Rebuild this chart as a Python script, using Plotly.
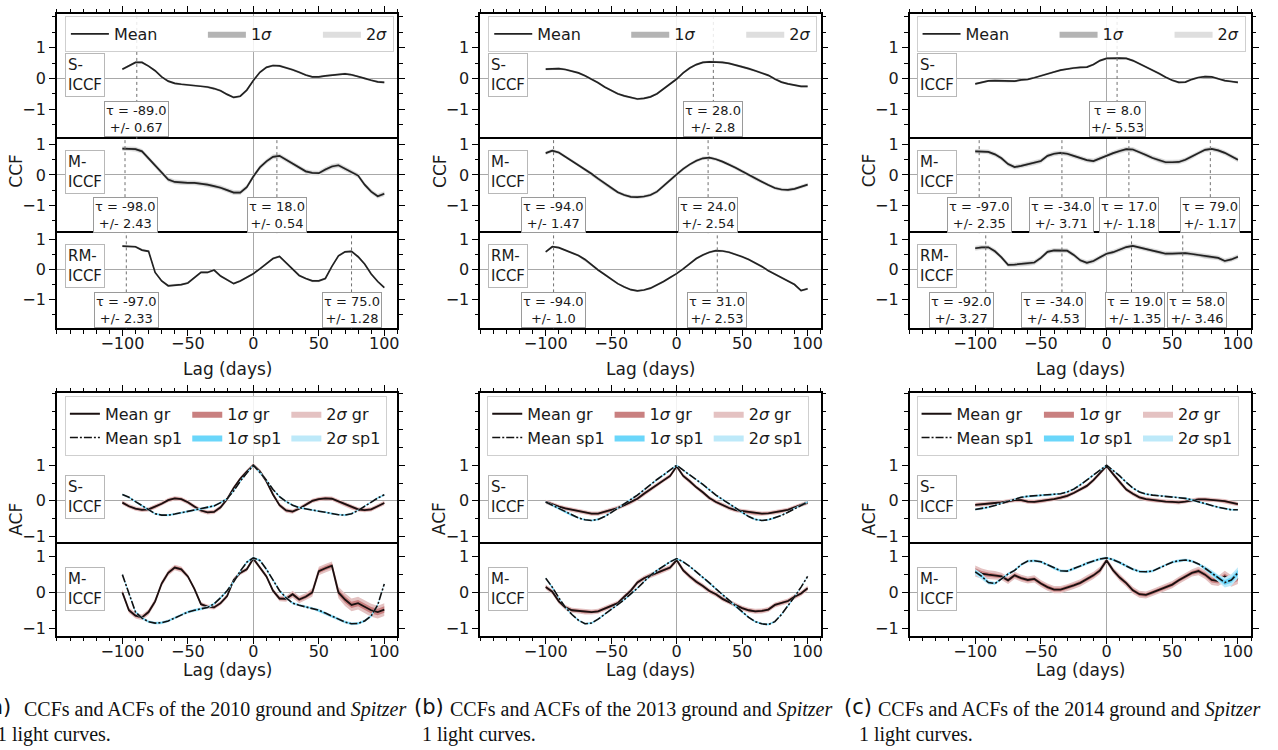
import numpy as np
import plotly.graph_objects as go

W, H = 1278, 750

# ------------------------------------------------------------------ data
lag = list(range(-100, 101, 5))

# CCF means (S-ICCF, M-ICCF, RM-ICCF) per season
ccf_2010_s = [0.30, 0.42, 0.52, 0.52, 0.40, 0.25, 0.05, -0.09, -0.16, -0.19,
              -0.21, -0.22, -0.24, -0.28, -0.33, -0.40, -0.52, -0.62, -0.58, -0.38,
              -0.07,
              0.20, 0.36, 0.42, 0.41, 0.35, 0.28, 0.20, 0.11, 0.05, 0.05,
              0.08, 0.11, 0.14, 0.15, 0.12, 0.07, 0.00, -0.06, -0.11, -0.13]
ccf_2010_m = [0.87, 0.87, 0.85, 0.78, 0.55, 0.30, 0.08, -0.15, -0.23, -0.25,
              -0.26, -0.26, -0.28, -0.32, -0.37, -0.42, -0.50, -0.58, -0.58, -0.40,
              -0.05,
              0.25, 0.45, 0.60, 0.63, 0.50, 0.38, 0.25, 0.12, 0.07, 0.06,
              0.18, 0.28, 0.32, 0.20, 0.10, -0.02, -0.32, -0.55, -0.70, -0.62]
ccf_2010_rm = [0.77, 0.77, 0.75, 0.64, 0.60, -0.10, -0.38, -0.54, -0.53, -0.50,
               -0.45, -0.28, -0.10, -0.10, -0.02, -0.22, -0.35, -0.47, -0.38, -0.26,
               -0.14,
               0.02, 0.20, 0.36, 0.43, 0.22, 0.02, -0.20, -0.30, -0.38, -0.38,
               -0.30, 0.10, 0.45, 0.58, 0.60, 0.42, 0.18, -0.15, -0.40, -0.60]
ccf_2013_s = [0.30, 0.32, 0.32, 0.29, 0.24, 0.18, 0.09, -0.02, -0.14, -0.28,
              -0.40, -0.50, -0.57, -0.63, -0.67, -0.65, -0.60, -0.50, -0.35, -0.18,
              -0.02,
              0.18, 0.34, 0.45, 0.52, 0.54, 0.54, 0.52, 0.49, 0.44, 0.39,
              0.32, 0.25, 0.18, 0.10, -0.02, -0.12, -0.18, -0.22, -0.26, -0.26]
ccf_2013_m = [0.72, 0.80, 0.74, 0.60, 0.47, 0.33, 0.18, 0.04, -0.12, -0.28,
              -0.44, -0.57, -0.66, -0.72, -0.73, -0.71, -0.66, -0.55, -0.36, -0.16,
              0.02,
              0.20, 0.35, 0.47, 0.55, 0.57, 0.52, 0.44, 0.35, 0.24, 0.12,
              0.00, -0.12, -0.22, -0.33, -0.43, -0.48, -0.49, -0.46, -0.38, -0.32]
ccf_2013_rm = [0.58, 0.75, 0.72, 0.64, 0.55, 0.46, 0.33, 0.15, -0.02, -0.17,
               -0.33, -0.47, -0.58, -0.67, -0.71, -0.68, -0.62, -0.52, -0.40, -0.27,
               -0.14,
               0.02, 0.20, 0.36, 0.48, 0.57, 0.62, 0.61, 0.57, 0.50, 0.42,
               0.33, 0.22, 0.10, -0.04, -0.16, -0.28, -0.38, -0.50, -0.70, -0.64]
ccf_2014_s = [-0.18, -0.12, -0.08, -0.07, -0.08, -0.10, -0.09, -0.05, -0.03, 0.02,
              0.09, 0.16, 0.21, 0.27, 0.31, 0.34, 0.36, 0.37, 0.45, 0.58,
              0.65,
              0.66, 0.66, 0.65, 0.58, 0.48, 0.38, 0.28, 0.16, 0.04, -0.06,
              -0.13, -0.12, -0.03, 0.03, 0.06, 0.05, -0.01, -0.07, -0.10, -0.13]
ccf_2014_m = [0.78, 0.78, 0.76, 0.68, 0.55, 0.36, 0.26, 0.30, 0.36, 0.40,
              0.46, 0.63, 0.70, 0.73, 0.70, 0.63, 0.56, 0.49, 0.46, 0.55,
              0.64,
              0.72, 0.79, 0.85, 0.84, 0.76, 0.66, 0.56, 0.48, 0.42, 0.42,
              0.43, 0.50, 0.61, 0.74, 0.83, 0.86, 0.81, 0.73, 0.62, 0.50]
ccf_2014_rm = [0.70, 0.73, 0.73, 0.60, 0.40, 0.15, 0.16, 0.18, 0.19, 0.23,
               0.38, 0.58, 0.63, 0.62, 0.62, 0.48, 0.30, 0.22, 0.28, 0.40,
               0.52,
               0.57, 0.65, 0.74, 0.78, 0.72, 0.66, 0.62, 0.57, 0.52, 0.52,
               0.54, 0.54, 0.51, 0.48, 0.43, 0.40, 0.38, 0.28, 0.33, 0.42]

# CCF 1-sigma half widths
ccf_sigma_2010 = [0.02, 0.04, 0.02]
ccf_sigma_2013 = [0.02, 0.03, 0.02]
ccf_sigma_2014 = [0.02, 0.04, 0.04]

# ACF means (ground gr, Spitzer sp1)
acf_2010_s_gr = [-0.05, -0.15, -0.22, -0.25, -0.24, -0.17, -0.08, 0.02, 0.07, 0.05,
                 -0.04, -0.16, -0.27, -0.32, -0.31, -0.18, 0.05, 0.36, 0.62, 0.82,
                 1.00,
                 0.83, 0.55, 0.18, -0.12, -0.27, -0.30, -0.22, -0.10, 0.00, 0.05,
                 0.07, 0.06, -0.02, -0.10, -0.18, -0.24, -0.26, -0.24, -0.15, -0.06]
acf_2010_s_sp1 = [0.18, 0.10, -0.02, -0.14, -0.26, -0.36, -0.40, -0.40, -0.37, -0.33,
                  -0.30, -0.27, -0.23, -0.19, -0.14, -0.05, 0.06, 0.28, 0.55, 0.78,
                  1.00,
                  0.80, 0.58, 0.32, 0.12, -0.02, -0.12, -0.19, -0.23, -0.26, -0.29,
                  -0.32, -0.36, -0.39, -0.40, -0.36, -0.27, -0.15, -0.03, 0.08, 0.17]
acf_2010_m_gr = [0.00, -0.50, -0.65, -0.70, -0.55, -0.25, 0.25, 0.55, 0.70, 0.65,
                 0.45, 0.10, -0.33, -0.40, -0.42, -0.30, -0.10, 0.35, 0.55, 0.65,
                 0.95,
                 0.70, 0.45, 0.05, -0.17, -0.18, -0.05, -0.20, -0.12, 0.00, 0.60,
                 0.68, 0.75, 0.00, -0.20, -0.35, -0.30, -0.40, -0.50, -0.55, -0.48]
acf_2010_m_sp1 = [0.50, -0.05, -0.55, -0.72, -0.82, -0.86, -0.85, -0.80, -0.72, -0.62,
                  -0.55, -0.50, -0.46, -0.42, -0.32, -0.15, 0.05, 0.30, 0.60, 0.85,
                  0.97,
                  0.90, 0.65, 0.35, 0.05, -0.15, -0.30, -0.36, -0.40, -0.44, -0.50,
                  -0.58, -0.66, -0.75, -0.83, -0.88, -0.87, -0.80, -0.66, -0.35, 0.24]
acf_2013_s_gr = [-0.03, -0.10, -0.16, -0.21, -0.25, -0.29, -0.33, -0.36, -0.36, -0.31,
                 -0.27, -0.20, -0.12, -0.04, 0.06, 0.20, 0.33, 0.45, 0.58, 0.70,
                 0.97,
                 0.70, 0.55, 0.38, 0.24, 0.08, -0.03, -0.12, -0.20, -0.26, -0.29,
                 -0.32, -0.35, -0.36, -0.35, -0.32, -0.29, -0.25, -0.18, -0.11, -0.05]
acf_2013_s_sp1 = [-0.03, -0.12, -0.22, -0.32, -0.41, -0.48, -0.53, -0.55, -0.52, -0.44,
                  -0.33, -0.20, -0.08, 0.04, 0.16, 0.31, 0.46, 0.60, 0.73, 0.86,
                  1.00,
                  0.86, 0.73, 0.60, 0.46, 0.31, 0.16, 0.04, -0.08, -0.20, -0.33,
                  -0.44, -0.52, -0.55, -0.53, -0.48, -0.41, -0.32, -0.22, -0.12, -0.03]
acf_2013_m_gr = [0.15, 0.02, -0.25, -0.42, -0.50, -0.52, -0.55, -0.55, -0.53, -0.45,
                 -0.38, -0.30, -0.12, 0.05, 0.28, 0.40, 0.48, 0.55, 0.62, 0.70,
                 0.91,
                 0.62, 0.45, 0.30, 0.18, 0.04, -0.05, -0.18, -0.27, -0.36, -0.44,
                 -0.50, -0.53, -0.52, -0.48, -0.35, -0.30, -0.24, -0.12, -0.03, 0.12]
acf_2013_m_sp1 = [0.40, 0.15, -0.15, -0.42, -0.62, -0.78, -0.88, -0.86, -0.75, -0.62,
                  -0.48, -0.34, -0.20, -0.05, 0.12, 0.30, 0.48, 0.62, 0.75, 0.86,
                  0.95,
                  0.86, 0.73, 0.58, 0.42, 0.27, 0.10, -0.06, -0.22, -0.40, -0.56,
                  -0.70, -0.82, -0.88, -0.90, -0.82, -0.62, -0.38, -0.12, 0.15, 0.45]
acf_2014_s_gr = [-0.11, -0.10, -0.08, -0.06, -0.04, -0.01, 0.02, 0.02, -0.02, -0.03,
                 -0.01, 0.02, 0.05, 0.09, 0.14, 0.22, 0.32, 0.42, 0.58, 0.78,
                 0.98,
                 0.75, 0.52, 0.32, 0.20, 0.10, 0.05, 0.02, 0.00, -0.02, -0.03,
                 -0.04, -0.02, 0.02, 0.04, 0.04, 0.03, 0.02, -0.01, -0.05, -0.09]
acf_2014_s_sp1 = [-0.24, -0.22, -0.18, -0.13, -0.07, 0.00, 0.06, 0.10, 0.13, 0.14,
                  0.15, 0.16, 0.17, 0.20, 0.25, 0.33, 0.45, 0.58, 0.72, 0.86,
                  1.00,
                  0.86, 0.70, 0.52, 0.36, 0.25, 0.19, 0.16, 0.14, 0.13, 0.12,
                  0.10, 0.07, 0.03, -0.03, -0.08, -0.13, -0.18, -0.22, -0.25, -0.25]
acf_2014_m_gr = [0.60, 0.53, 0.50, 0.48, 0.45, 0.34, 0.48, 0.40, 0.35, 0.38,
                 0.25, 0.15, 0.08, 0.08, 0.13, 0.20, 0.27, 0.38, 0.48, 0.62,
                 0.90,
                 0.62, 0.42, 0.26, 0.06, -0.05, -0.07, 0.00, 0.08, 0.14, 0.22,
                 0.34, 0.45, 0.55, 0.60, 0.50, 0.35, 0.32, 0.45, 0.32, 0.40]
acf_2014_m_sp1 = [0.58, 0.45, 0.28, 0.25, 0.38, 0.52, 0.62, 0.78, 0.88, 0.89,
                  0.86, 0.78, 0.68, 0.61, 0.60, 0.66, 0.74, 0.82, 0.88, 0.94,
                  0.97,
                  0.92, 0.84, 0.74, 0.65, 0.59, 0.58, 0.60, 0.68, 0.78, 0.85,
                  0.89, 0.91, 0.88, 0.80, 0.68, 0.55, 0.40, 0.28, 0.35, 0.55]

# ACF 1-sigma half widths
acf_2010_m_gr_sigma = [0.04, 0.04, 0.04, 0.04, 0.04, 0.04, 0.04, 0.04, 0.04, 0.04,
                       0.03, 0.03, 0.03, 0.03, 0.03, 0.03, 0.03, 0.03, 0.03, 0.03,
                       0.03,
                       0.03, 0.03, 0.03, 0.04, 0.04, 0.05, 0.05, 0.05, 0.06, 0.06,
                       0.06, 0.06, 0.08, 0.09, 0.09, 0.09, 0.09, 0.09, 0.09, 0.09]
acf_2014_m_gr_sigma = [0.08, 0.07, 0.06, 0.06, 0.05, 0.05, 0.05, 0.05, 0.05, 0.05,
                       0.05, 0.05, 0.05, 0.05, 0.05, 0.05, 0.05, 0.05, 0.05, 0.05,
                       0.04,
                       0.04, 0.05, 0.05, 0.05, 0.05, 0.05, 0.05, 0.05, 0.05, 0.05,
                       0.05, 0.05, 0.05, 0.06, 0.06, 0.07, 0.07, 0.08, 0.08, 0.08]
acf_2014_m_sp1_sigma = [0.04, 0.04, 0.03, 0.02, 0.02, 0.02, 0.02, 0.02, 0.02, 0.02,
                        0.02, 0.02, 0.02, 0.02, 0.02, 0.02, 0.02, 0.02, 0.02, 0.02,
                        0.02,
                        0.02, 0.02, 0.02, 0.02, 0.02, 0.02, 0.02, 0.02, 0.02, 0.02,
                        0.02, 0.02, 0.02, 0.02, 0.03, 0.04, 0.05, 0.07, 0.08, 0.08]

# peak lags and uncertainties per CCF panel
tau_2010 = [[(-89.0, 0.67)], [(-98.0, 2.43), (18.0, 0.54)], [(-97.0, 2.33), (75.0, 1.28)]]
tau_2013 = [[(28.0, 2.8)], [(-94.0, 1.47), (24.0, 2.54)], [(-94.0, 1.0), (31.0, 2.53)]]
tau_2014 = [[(8.0, 5.53)],
            [(-97.0, 2.35), (-34.0, 3.71), (17.0, 1.18), (79.0, 1.17)],
            [(-92.0, 3.27), (-34.0, 4.53), (19.0, 1.35), (58.0, 3.46)]]

years = ["2010", "2013", "2014"]
ccf = {"2010": [ccf_2010_s, ccf_2010_m, ccf_2010_rm],
       "2013": [ccf_2013_s, ccf_2013_m, ccf_2013_rm],
       "2014": [ccf_2014_s, ccf_2014_m, ccf_2014_rm]}
ccf_sig = {"2010": ccf_sigma_2010, "2013": ccf_sigma_2013, "2014": ccf_sigma_2014}
acf = {"2010": [(acf_2010_s_gr, acf_2010_s_sp1), (acf_2010_m_gr, acf_2010_m_sp1)],
       "2013": [(acf_2013_s_gr, acf_2013_s_sp1), (acf_2013_m_gr, acf_2013_m_sp1)],
       "2014": [(acf_2014_s_gr, acf_2014_s_sp1), (acf_2014_m_gr, acf_2014_m_sp1)]}
acf_sig = {"2010": [(0.03, 0.015), (acf_2010_m_gr_sigma, 0.02)],
           "2013": [(0.03, 0.015), (0.035, 0.015)],
           "2014": [(0.03, 0.015), (acf_2014_m_gr_sigma, acf_2014_m_sp1_sigma)]}
taus = {"2010": tau_2010, "2013": tau_2013, "2014": tau_2014}
captions = {"2010": "(a)", "2013": "(b)", "2014": "(c)"}

# ------------------------------------------------------------------ layout geometry (pixels)
col_px = [(57, 398), (481, 822), (911, 1253)]
row_px = [(10, 136), (136, 231), (231, 327), (392, 544), (544, 637)]
row_yr = [[-1.97, 2.1], [-1.92, 1.19], [-1.95, 1.2], [-1.2, 3.03], [-1.22, 1.37]]
row_labels = ["S-<br>ICCF", "M-<br>ICCF", "RM-<br>ICCF", "S-<br>ICCF", "M-<br>ICCF"]
# shifted label positions for crowded boxes (2014 RM-ICCF)
tau_box_x = {("2014", 2): [-110.8, -40.7, 21.5, 68.7]}

FONT = "DejaVu Sans"
TXT = "#1a1a1a"
CCF_1S, CCF_2S = "#b4b4b4", "#dedede"
GR_1S, GR_2S = "#c98080", "#e4c2c2"
SP_1S, SP_2S = "#6ad6fa", "#bde9f9"


def axn(ci, ri):
    n = ci * 5 + ri + 1
    s = "" if n == 1 else str(n)
    return "x" + s, "y" + s, "xaxis" + s, "yaxis" + s


def band(x, m, s, k):
    m = np.asarray(m, float)
    s = np.broadcast_to(np.asarray(s, float), m.shape)
    up, lo = m + k * s, m - k * s
    return list(x) + list(x)[::-1], list(up) + list(lo)[::-1]


for arr in [ccf[y][i] for y in years for i in range(3)] + \
        [acf[y][i][j] for y in years for i in range(2) for j in range(2)]:
    assert len(arr) == len(lag), len(arr)

fig = go.Figure()

for ci, yr in enumerate(years):
    lg = "legend" if ci == 0 else f"legend{ci + 1}"
    # ---------------- CCF panels
    for ri in range(3):
        xn, yn, _, _ = axn(ci, ri)
        m = ccf[yr][ri]
        s = ccf_sig[yr][ri]
        show = ri == 0
        bx, by = band(lag, m, s, 2)
        fig.add_trace(go.Scatter(x=bx, y=by, fill="toself", fillcolor=CCF_2S, line=dict(width=0),
                                 mode="lines", name="2<i>σ</i>", showlegend=show, legend=lg,
                                 legendrank=3, xaxis=xn, yaxis=yn, hoverinfo="skip"))
        bx, by = band(lag, m, s, 1)
        fig.add_trace(go.Scatter(x=bx, y=by, fill="toself", fillcolor=CCF_1S, line=dict(width=0),
                                 mode="lines", name="1<i>σ</i>", showlegend=show, legend=lg,
                                 legendrank=2, legendwidth=62, xaxis=xn, yaxis=yn, hoverinfo="skip"))
        fig.add_trace(go.Scatter(x=lag, y=m, mode="lines", line=dict(color="#222222", width=1.7),
                                 name="Mean", showlegend=show, legend=lg, legendrank=1,
                                 legendwidth=84, xaxis=xn, yaxis=yn))
    # ---------------- ACF panels
    lg2 = f"legend{ci + 4}"
    for k in range(2):
        ri = 3 + k
        xn, yn, _, _ = axn(ci, ri)
        gr, sp = acf[yr][k]
        sgr, ssp = acf_sig[yr][k]
        show = k == 0
        specs = [
            (gr, sgr, 2, GR_2S, "2<i>σ</i> gr", "s2", 5),
            (gr, sgr, 1, GR_1S, "1<i>σ</i> gr", "s1", 3),
        ]
        for mm, ss, kk, col, nm, grp, rk in specs:
            bx, by = band(lag, mm, ss, kk)
            fig.add_trace(go.Scatter(x=bx, y=by, fill="toself", fillcolor=col, line=dict(width=0),
                                     mode="lines", name=nm, showlegend=show, legend=lg2,
                                     legendgroup=grp + yr, legendrank=rk, xaxis=xn, yaxis=yn,
                                     hoverinfo="skip"))
        fig.add_trace(go.Scatter(x=lag, y=gr, mode="lines", line=dict(color="#1a1010", width=1.8),
                                 name="Mean gr", showlegend=show, legend=lg2, legendgroup="mn" + yr,
                                 legendrank=1, xaxis=xn, yaxis=yn))
        specs = [
            (sp, ssp, 2, SP_2S, "2<i>σ</i> sp1", "s2", 6),
            (sp, ssp, 1, SP_1S, "1<i>σ</i> sp1", "s1", 4),
        ]
        for mm, ss, kk, col, nm, grp, rk in specs:
            bx, by = band(lag, mm, ss, kk)
            fig.add_trace(go.Scatter(x=bx, y=by, fill="toself", fillcolor=col, line=dict(width=0),
                                     mode="lines", name=nm, showlegend=show, legend=lg2,
                                     legendgroup=grp + yr, legendrank=rk, xaxis=xn, yaxis=yn,
                                     hoverinfo="skip"))
        fig.add_trace(go.Scatter(x=lag, y=sp, mode="lines",
                                 line=dict(color="#111111", width=1.6, dash="8px,2px,2px,2px"),
                                 name="Mean sp1", showlegend=show, legend=lg2, legendgroup="mn" + yr,
                                 legendrank=2, xaxis=xn, yaxis=yn))

# ------------------------------------------------------------------ axes
layout = {}
tickfont = dict(family=FONT, size=16, color=TXT)
for ci in range(3):
    for ri in range(5):
        xn, yn, xk, yk = axn(ci, ri)
        x0, x1 = col_px[ci]
        y0, y1 = row_px[ri]
        top = ri in (0, 3)
        bottom = ri in (2, 4)
        middle = ri == 1
        tk = "outside" if (top or bottom) else ""
        layout[xk] = dict(
            domain=[x0 / W, x1 / W], range=[-150, 110], anchor=yn,
            showline=True, linecolor="black", linewidth=1.5, mirror=bottom,
            showgrid=False, zeroline=True, zerolinecolor="#a8a8a8", zerolinewidth=1.2,
            tickmode="array", tickvals=[-100, -50, 0, 50, 100],
            ticks=tk, ticklen=6, tickwidth=1.3, tickcolor="black",
            showticklabels=bottom, side="top" if (top or middle) else "bottom",
            tickfont=tickfont, ticklabelstandoff=-6 if bottom else 0,
            minor=dict(ticks=tk, tickmode="linear", dtick=10, tick0=0, ticklen=3.5,
                       tickwidth=1, tickcolor="black", showgrid=False),
        )
        layout[yk] = dict(
            domain=[1 - y1 / H, 1 - y0 / H], range=row_yr[ri], anchor=xn,
            showline=True, linecolor="black", linewidth=1.5, mirror="allticks",
            showgrid=False, zeroline=True, zerolinecolor="#a8a8a8", zerolinewidth=1.2,
            tickmode="array", tickvals=[-1, 0, 1], ticks="outside", ticklen=6,
            tickwidth=1.3, tickcolor="black", tickfont=tickfont,
            minor=dict(ticks="outside", tickmode="linear", dtick=0.5, tick0=0, ticklen=3.5,
                       tickwidth=1, tickcolor="black", showgrid=False),
        )

# ------------------------------------------------------------------ annotations & shapes
ann = []
shapes = []
for ci, yr in enumerate(years):
    for ri in range(5):
        xn, yn, _, _ = axn(ci, ri)
        ann.append(dict(x=-144, y=0.1, xref=xn, yref=yn, xanchor="left", yanchor="middle",
                        text=row_labels[ri], showarrow=False, align="left",
                        font=dict(family=FONT, size=15, color=TXT), bgcolor="white",
                        bordercolor="#b8b8b8", borderwidth=1, borderpad=2))
    for ri in range(3):
        xn, yn, _, _ = axn(ci, ri)
        bxs = tau_box_x.get((yr, ri))
        for j, (t, e) in enumerate(taus[yr][ri]):
            shapes.append(dict(type="line", xref=xn, yref=yn + " domain", x0=t, x1=t, y0=0, y1=1,
                               line=dict(color="#707070", width=1, dash="dot"), layer="above"))
            bx = bxs[j] if bxs else t
            ann.append(dict(x=bx, y=-1.33, xref=xn, yref=yn, xanchor="center", yanchor="middle",
                            text=f"τ = {t:.1f}<br>+/- {e}", showarrow=False, align="center",
                            font=dict(family=FONT, size=13, color=TXT), bgcolor="white",
                            bordercolor="#9a9a9a", borderwidth=1, borderpad=1))
    x0, x1 = col_px[ci]
    xc = (x0 + x1) / 2 / W
    for txt, py in (("CCF", 168), ("ACF", 519)):
        ann.append(dict(x=(x0 - 41) / W, y=1 - py / H, xref="paper", yref="paper",
                        xanchor="center", yanchor="middle", text=txt, textangle=-90,
                        showarrow=False, font=dict(family=FONT, size=17, color=TXT)))
    for py in (368, 671):
        ann.append(dict(x=xc, y=1 - py / H, xref="paper", yref="paper", xanchor="center",
                        yanchor="middle", text="Lag (days)", showarrow=False,
                        font=dict(family=FONT, size=17, color=TXT)))

cap_lab_x = [13, 447, 875]
cap_txt_x = [22, 449, 877]
cap_l2_x = [-5, 421, 858]
for ci, yr in enumerate(years):
    ann.append(dict(x=cap_lab_x[ci] / W, y=1 - 709 / H, xref="paper", yref="paper",
                    xanchor="right", yanchor="middle", text=captions[yr], showarrow=False,
                    font=dict(family=FONT, size=21, color="#111")))
    ann.append(dict(x=cap_txt_x[ci] / W, y=1 - 711 / H, xref="paper", yref="paper",
                    xanchor="left", yanchor="middle",
                    text=f"CCFs and ACFs of the {yr} ground and <i>Spitzer</i>",
                    showarrow=False, font=dict(family="Liberation Serif", size=20, color="#111")))
    ann.append(dict(x=cap_l2_x[ci] / W, y=1 - 736 / H, xref="paper", yref="paper",
                    xanchor="left", yanchor="middle", text="1 light curves.", showarrow=False,
                    font=dict(family="Liberation Serif", size=20, color="#111")))

# ------------------------------------------------------------------ legends
leg_common = dict(orientation="h", xanchor="left", yanchor="top",
                  bgcolor="rgba(255,255,255,0.85)", bordercolor="#cfcfcf", borderwidth=1,
                  font=dict(family=FONT, size=16, color=TXT))
ccf_leg_x = [65, 489, 918]
acf_leg_x = [65, 488, 918]
for ci in range(3):
    key = "legend" if ci == 0 else f"legend{ci + 1}"
    layout[key] = dict(x=ccf_leg_x[ci] / W, y=1 - 12 / H, traceorder="normal",
                       itemwidth=38, **leg_common)
    layout[f"legend{ci + 4}"] = dict(x=acf_leg_x[ci] / W, y=1 - 395 / H, traceorder="grouped",
                                     tracegroupgap=0, **leg_common)

fig.update_layout(
    width=W, height=H, autosize=False,
    margin=dict(l=0, r=0, t=0, b=0),
    paper_bgcolor="white", plot_bgcolor="white",
    annotations=ann, shapes=shapes, showlegend=True,
    **layout,
)

fig.write_html("out.html")
